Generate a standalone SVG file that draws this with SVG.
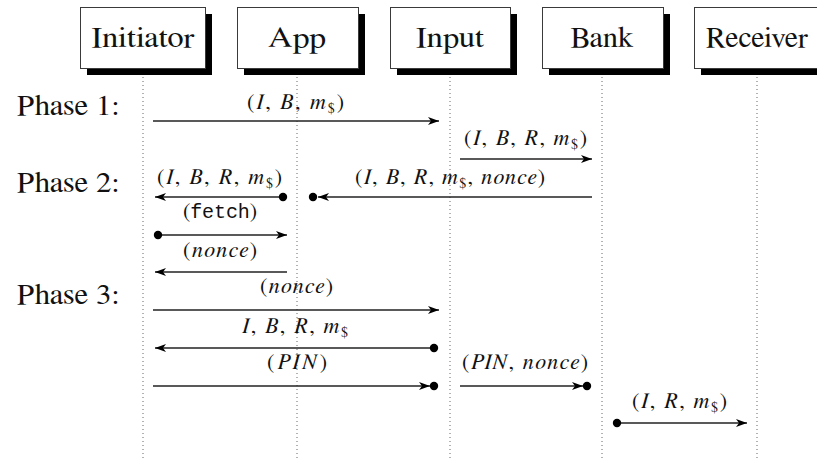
<svg xmlns="http://www.w3.org/2000/svg" width="817" height="460" viewBox="0 0 817 460">
  <style>
    .box { fill: #ffffff; stroke: #3a3a3a; stroke-width: 1; }
    .shadow { fill: #000000; }
    .serif { font-family: FreeSerif, "Noto Serif", serif; fill: #111; }
    .name { font-size: 29px; text-anchor: middle; }
    .phase { font-size: 29px; }
    .life { stroke: #666; stroke-width: 1; stroke-dasharray: 1 3; fill: none; }
    .msg { stroke: #222; stroke-width: 1.3; fill: none; }
    .arrow { marker-end: url(#head); }
    .dot { fill: #000; }
    .lbl { font-size: 22px; text-anchor: middle; }
    .it { font-style: italic; }
    .sub { font-size: 14px; }
    .tt { font-family: "Liberation Mono", FreeMono, "DejaVu Sans Mono", monospace; font-size: 20px; }
  </style>
  <defs>
    <marker id="head" viewBox="0 0 11 8" refX="11" refY="4" markerWidth="11" markerHeight="8" markerUnits="userSpaceOnUse" orient="auto">
      <path d="M0,0 L11,4 L0,8 L3,4 z" fill="#000"/>
    </marker>
  </defs>

  <!-- participants -->
  <g id="initiator">
    <rect class="shadow" x="87" y="14" width="125" height="61"/>
    <rect class="box" x="80.5" y="7.5" width="125" height="61"/>
    <text class="serif name" x="143" y="47" textLength="103" lengthAdjust="spacingAndGlyphs">Initiator</text>
  </g>
  <g id="app">
    <rect class="shadow" x="244" y="14" width="121" height="61"/>
    <rect class="box" x="237.5" y="7.5" width="121" height="61"/>
    <text class="serif name" x="297" y="47" textLength="58" lengthAdjust="spacingAndGlyphs">App</text>
  </g>
  <g id="input">
    <rect class="shadow" x="397" y="14" width="120" height="61"/>
    <rect class="box" x="390.5" y="7.5" width="120" height="61"/>
    <text class="serif name" x="450" y="47" textLength="68" lengthAdjust="spacingAndGlyphs">Input</text>
  </g>
  <g id="bank">
    <rect class="shadow" x="549" y="14" width="121" height="61"/>
    <rect class="box" x="542.5" y="7.5" width="121" height="61"/>
    <text class="serif name" x="602" y="47" textLength="63" lengthAdjust="spacingAndGlyphs">Bank</text>
  </g>
  <g id="receiver">
    <rect class="shadow" x="701" y="14" width="126" height="61"/>
    <rect class="box" x="694.5" y="7.5" width="126" height="61"/>
    <text class="serif name" x="757" y="47" textLength="102" lengthAdjust="spacingAndGlyphs">Receiver</text>
  </g>

  <!-- lifelines -->
  <g id="lifelines">
    <line class="life" x1="143" y1="77" x2="143" y2="460"/>
    <line class="life" x1="297" y1="77" x2="297" y2="460"/>
    <line class="life" x1="450" y1="77" x2="450" y2="460"/>
    <line class="life" x1="602" y1="77" x2="602" y2="460"/>
    <line class="life" x1="757" y1="77" x2="757" y2="460"/>
  </g>

  <!-- phase labels -->
  <g id="phases">
    <text class="serif phase" x="17" y="115" textLength="102" lengthAdjust="spacingAndGlyphs">Phase 1:</text>
    <text class="serif phase" x="17" y="192" textLength="102" lengthAdjust="spacingAndGlyphs">Phase 2:</text>
    <text class="serif phase" x="17" y="304" textLength="102" lengthAdjust="spacingAndGlyphs">Phase 3:</text>
  </g>

  <!-- messages -->
  <g id="connectors">
    <line class="msg arrow" x1="153" y1="121" x2="439" y2="121"/>
    <line class="msg arrow" x1="460" y1="159" x2="592" y2="159"/>
    <line class="msg arrow" x1="592" y1="197" x2="318" y2="197"/>
    <circle class="dot" cx="313" cy="197" r="4.2"/>
    <line class="msg arrow" x1="283" y1="197" x2="155" y2="197"/>
    <circle class="dot" cx="283" cy="197" r="4.2"/>
    <line class="msg arrow" x1="158" y1="235" x2="287" y2="235"/>
    <circle class="dot" cx="158" cy="235" r="4.2"/>
    <line class="msg arrow" x1="287" y1="272" x2="155" y2="272"/>
    <line class="msg arrow" x1="153" y1="310" x2="439" y2="310"/>
    <line class="msg arrow" x1="434" y1="348" x2="155" y2="348"/>
    <circle class="dot" cx="434" cy="348" r="4.2"/>
    <line class="msg arrow" x1="153" y1="386" x2="430" y2="386"/>
    <circle class="dot" cx="434" cy="386" r="4.2"/>
    <line class="msg arrow" x1="460" y1="386" x2="583" y2="386"/>
    <circle class="dot" cx="587" cy="386" r="4.2"/>
    <line class="msg arrow" x1="617" y1="423" x2="747" y2="423"/>
    <circle class="dot" cx="617" cy="423" r="4.2"/>
  </g>

  <!-- message labels -->
  <g id="labels">
    <text class="serif lbl" x="295.5" y="109" textLength="97">(<tspan class="it">I</tspan>, <tspan class="it">B</tspan>, <tspan class="it">m</tspan><tspan class="sub" dy="4">$</tspan><tspan dy="-4">)</tspan></text>
    <text class="serif lbl" x="525.5" y="145" textLength="123">(<tspan class="it">I</tspan>, <tspan class="it">B</tspan>, <tspan class="it">R</tspan>, <tspan class="it">m</tspan><tspan class="sub" dy="4">$</tspan><tspan dy="-4">)</tspan></text>
    <text class="serif lbl" x="450" y="184" textLength="190">(<tspan class="it">I</tspan>, <tspan class="it">B</tspan>, <tspan class="it">R</tspan>, <tspan class="it">m</tspan><tspan class="sub" dy="4">$</tspan><tspan dy="-4">, </tspan><tspan class="it">nonce</tspan>)</text>
    <text class="serif lbl" x="219.5" y="184" textLength="125">(<tspan class="it">I</tspan>, <tspan class="it">B</tspan>, <tspan class="it">R</tspan>, <tspan class="it">m</tspan><tspan class="sub" dy="4">$</tspan><tspan dy="-4">)</tspan></text>
    <text class="serif lbl" x="220" y="218" textLength="74">(<tspan class="tt">fetch</tspan>)</text>
    <text class="serif lbl" x="220" y="257" textLength="74">(<tspan class="it">nonce</tspan>)</text>
    <text class="serif lbl" x="296.5" y="293" textLength="73">(<tspan class="it">nonce</tspan>)</text>
    <text class="serif lbl" x="295" y="333" textLength="106"><tspan class="it">I</tspan>, <tspan class="it">B</tspan>, <tspan class="it">R</tspan>, <tspan class="it">m</tspan><tspan class="sub" dy="4">$</tspan></text>
    <text class="serif lbl" x="297" y="369" textLength="60">(<tspan class="it">PIN</tspan>)</text>
    <text class="serif lbl" x="525" y="369" textLength="126">(<tspan class="it">PIN</tspan>, <tspan class="it">nonce</tspan>)</text>
    <text class="serif lbl" x="679.5" y="408" textLength="95">(<tspan class="it">I</tspan>, <tspan class="it">R</tspan>, <tspan class="it">m</tspan><tspan class="sub" dy="4">$</tspan><tspan dy="-4">)</tspan></text>
  </g>
</svg>
